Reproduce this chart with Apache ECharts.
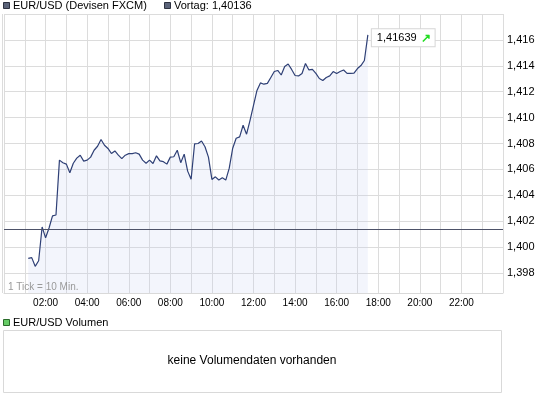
<!DOCTYPE html>
<html>
<head>
<meta charset="utf-8">
<title>EUR/USD</title>
<script src="https://cdn.jsdelivr.net/npm/echarts@6/dist/echarts.min.js"></script>
<style>
  html, body { margin: 0; padding: 0; background: #fff; }
  #chart { width: 545px; height: 398px; }
</style>
</head>
<body>
<div id="chart"></div>
<script>
// EUR/USD intraday, 1 tick = 10 min, first tick at 01:10
const startMinute = 70
const tickMinutes = 10
const prices = [
  1.39914, 1.39919, 1.39852, 1.39895, 1.40156, 1.40072, 1.40148, 1.40241, 1.40248, 1.40672,
  1.40652, 1.40641, 1.40574, 1.40648, 1.40687, 1.40710, 1.40664, 1.40672, 1.40695, 1.40748,
  1.40779, 1.40831, 1.40787, 1.40762, 1.40723, 1.40743, 1.40710, 1.40683, 1.40710, 1.40722,
  1.40722, 1.40729, 1.40718, 1.40672, 1.40648, 1.40672, 1.40646, 1.40705, 1.40666, 1.40660,
  1.40641, 1.40695, 1.40698, 1.40748, 1.40652, 1.40718, 1.40587, 1.40525, 1.40798, 1.40800,
  1.40820, 1.40775, 1.40695, 1.40523, 1.40543, 1.40518, 1.40535, 1.40518, 1.40610, 1.40764,
  1.40841, 1.40851, 1.40941, 1.40872, 1.40979, 1.41095, 1.41210, 1.41268, 1.41258, 1.41264,
  1.41310, 1.41356, 1.41364, 1.41329, 1.41395, 1.41414, 1.41372, 1.41325, 1.41322, 1.41341,
  1.41418, 1.41368, 1.41372, 1.41341, 1.41302, 1.41287, 1.41310, 1.41322, 1.41356, 1.41341,
  1.41356, 1.41368, 1.41341, 1.41341, 1.41343, 1.41379, 1.41402, 1.41441, 1.41639
]
const previousClose = 1.40136
const hourLabels = ['02:00', '04:00', '06:00', '08:00', '10:00', '12:00', '14:00', '16:00', '18:00', '20:00', '22:00']

const seriesData = prices.map((p, i) => [startMinute + i * tickMinutes, p])
const fmt = v => v.toFixed(3).replace('.', ',')
const font = '"Liberation Sans", Arial, sans-serif'

const chart = echarts.init(document.getElementById('chart'))
const option = {
  animation: false,
  textStyle: { fontFamily: font },
  grid: { left: 4, right: 42, top: 14, bottom: 105 },
  xAxis: {
    type: 'value',
    min: 0,
    max: 1440,
    interval: 60,
    axisLine: { lineStyle: { color: '#d9d9d9' } },
    axisTick: { show: false },
    axisLabel: {
      fontSize: 10,
      color: '#000',
      margin: 5,
      showMinLabel: false,
      showMaxLabel: false,
      formatter: v => {
        const label = String(v / 60).padStart(2, '0') + ':00'
        return hourLabels.indexOf(label) >= 0 ? label : ''
      }
    },
    splitLine: { lineStyle: { color: '#dcdcdc' } }
  },
  yAxis: {
    type: 'value',
    position: 'right',
    min: 1.39646,
    max: 1.418,
    splitNumber: 11,
    axisLine: { show: false },
    axisTick: { show: false },
    axisLabel: {
      fontSize: 11,
      color: '#000',
      margin: 4,
      showMinLabel: false,
      showMaxLabel: false,
      formatter: fmt
    },
    splitLine: { lineStyle: { color: '#dcdcdc' } }
  },
  series: [{
    name: 'EUR/USD (Devisen FXCM)',
    type: 'line',
    data: seriesData,
    symbol: 'none',
    lineStyle: { color: '#2f4076', width: 1.2 },
    areaStyle: { color: 'rgba(200,210,240,0.3)', origin: 'start' },
    endLabel: {
      show: true,
      distance: 4,
      offset: [0, 3],
      backgroundColor: '#fff',
      borderColor: '#d6d6d6',
      borderWidth: 1,
      padding: [3, 4, 2, 5],
      formatter: p => '{v|' + p.value[1].toFixed(5).replace('.', ',') + '}{a|↗}',
      rich: {
        v: { fontSize: 11, color: '#000', fontFamily: font },
        a: { fontSize: 12, color: '#22dd22', fontWeight: 'bold', padding: [0, 0, 0, 4] }
      }
    },
    markLine: {
      silent: true,
      symbol: 'none',
      precision: 5,
      label: { show: false },
      lineStyle: { color: '#4d5268', type: 'solid', width: 1 },
      data: [{ yAxis: previousClose }]
    }
  }],
  graphic: [
    { type: 'line', z: 100, shape: { x1: 2.5, y1: 14, x2: 2.5, y2: 293 }, style: { stroke: '#dcdcdc', lineWidth: 1 } },
    { type: 'rect', z: 100, shape: { x: 3.5, y: 2.5, width: 6, height: 6 }, style: { fill: '#5b6379', stroke: '#2d3140', lineWidth: 1 } },
    { type: 'text', z: 100, x: 13, y: 6, style: { text: 'EUR/USD (Devisen FXCM)', font: '11px ' + font, fill: '#000', verticalAlign: 'middle' } },
    { type: 'rect', z: 100, shape: { x: 164.5, y: 2.5, width: 6, height: 6 }, style: { fill: '#5b6379', stroke: '#2d3140', lineWidth: 1 } },
    { type: 'text', z: 100, x: 174, y: 6, style: { text: 'Vortag: ' + previousClose.toFixed(5).replace('.', ','), font: '11px ' + font, fill: '#000', verticalAlign: 'middle' } },
    { type: 'text', z: 100, x: 8, y: 287, style: { text: '1 Tick = 10 Min.', font: '10px ' + font, fill: '#9a9a9a', verticalAlign: 'middle' } },
    { type: 'rect', z: 100, shape: { x: 3.5, y: 319.5, width: 6, height: 6 }, style: { fill: '#66cc66', stroke: '#2a6a2a', lineWidth: 1 } },
    { type: 'text', z: 100, x: 13, y: 323, style: { text: 'EUR/USD Volumen', font: '11px ' + font, fill: '#000', verticalAlign: 'middle' } },
    { type: 'rect', z: 100, shape: { x: 3.5, y: 330.5, width: 498, height: 62 }, style: { fill: 'none', stroke: '#d9d9d9', lineWidth: 1 } },
    { type: 'text', z: 100, x: 252, y: 361, style: { text: 'keine Volumendaten vorhanden', font: '12px ' + font, fill: '#000', align: 'center', verticalAlign: 'middle' } }
  ]
}
chart.setOption(option)
</script>
</body>
</html>
